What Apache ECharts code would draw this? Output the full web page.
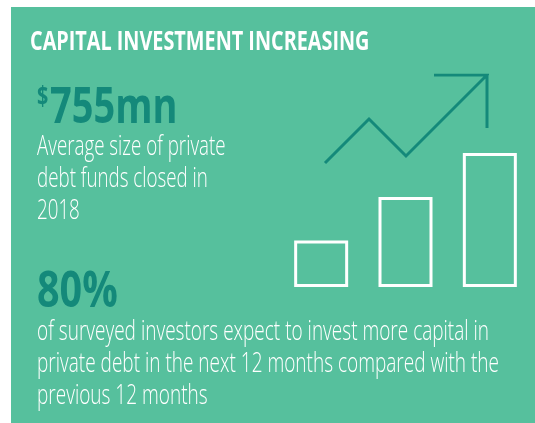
<!DOCTYPE html>
<html>
<head>
<meta charset="utf-8">
<style>
html, body { margin: 0; padding: 0; background: #fff; }
#chart-container { width: 535px; height: 423px; }
</style>
<script src="https://cdn.jsdelivr.net/npm/echarts@6/dist/echarts.min.js"></script>
</head>
<body>
<div id="chart-container"></div>
<script>
var barCategories = ['a', 'b', 'c'];
var barValues = [46.5, 90, 134];
var trendX = [0, 44, 81, 162, 109, 162, 162];
var trendY = [0, 44, 7, 88, 88, 88, 35];
var titleText = 'CAPITAL INVESTMENT INCREASING';
var statOne = '755mn';
var statOneLines = ['Average size of private', 'debt funds closed in', '2018'];
var statTwo = '80%';
var statTwoLines = [
    'of surveyed investors expect to invest more capital in',
    'private debt in the next 12 months compared with the',
    'previous 12 months'
];

var green = '#56c09d';
var dark = '#14897a';

// y is the text baseline, the box is centred on it so shift by the font's middle
function label(x, y, text, size, weight, color, narrow) {
    return {
        type: 'text', x: x, y: y - size * 0.388, scaleX: narrow, z: 10,
        style: { text: text, fill: color, font: weight + ' ' + size + 'px "Open Sans"', verticalAlign: 'middle' }
    };
}

var texts = [
    { type: 'rect', shape: { x: 11, y: 7, width: 524, height: 416 }, style: { fill: green }, z: 0 },
    label(30, 53, titleText, 27, 700, '#fff', 0.734),
    label(37, 109, '$', 26, 700, dark, 0.76),
    label(50, 128, statOne, 50, 700, dark, 0.76),
    label(37, 312, statTwo, 50, 700, dark, 0.79)
];
statOneLines.forEach(function (t, i) {
    texts.push(label(37, 158 + i * 32, t, 28, 300, '#fff', 0.67));
});
statTwoLines.forEach(function (t, i) {
    texts.push(label(37, 343 + i * 32, t, 28, 300, '#fff', 0.679));
});

var myChart = echarts.init(document.getElementById('chart-container'));
myChart.setOption({
    animation: false,
    backgroundColor: '#fff',
    graphic: texts,
    grid: [
        { left: 279, top: 153, width: 253, height: 134 },
        { left: 325, top: 75, width: 162, height: 88 }
    ],
    xAxis: [
        { type: 'category', gridIndex: 0, data: barCategories, show: false },
        { type: 'value', gridIndex: 1, min: 0, max: 162, show: false }
    ],
    yAxis: [
        { type: 'value', gridIndex: 0, min: 0, max: 134, show: false },
        { type: 'value', gridIndex: 1, min: 0, max: 88, show: false }
    ],
    series: [
        {
            type: 'bar', xAxisIndex: 0, yAxisIndex: 0, data: barValues, barWidth: 54,
            itemStyle: { color: 'transparent', borderColor: '#fff', borderWidth: 3 }, silent: true
        },
        {
            type: 'line', xAxisIndex: 1, yAxisIndex: 1, showSymbol: false, silent: true,
            data: trendX.map(function (x, i) { return [x, trendY[i]]; }),
            lineStyle: { color: dark, width: 3, join: 'miter' }
        }
    ]
});
</script>
</body>
</html>
